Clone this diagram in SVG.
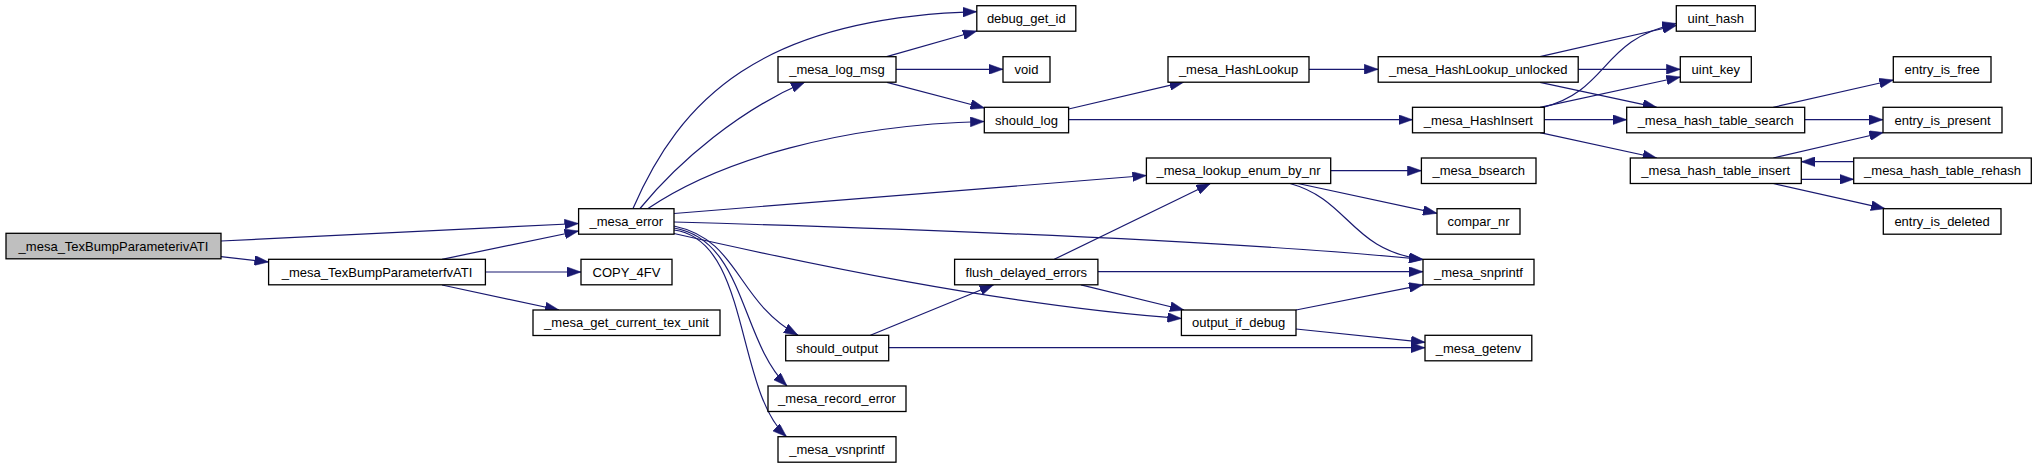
<svg xmlns="http://www.w3.org/2000/svg" width="2037" height="468" viewBox="0 0 2037 468">
<style>
.n rect{fill:#ffffff;stroke:#000000;stroke-width:1.3}
.n.root rect{fill:#bfbfbf}
.n text{font-family:"Liberation Sans",Arial,Helvetica,sans-serif;font-size:13px;text-anchor:middle;fill:#000000}
#edges path{fill:none;stroke:#191970;stroke-width:1.2;marker-end:url(#ah)}
</style>
<defs>
<marker id="ah" markerUnits="userSpaceOnUse" viewBox="0 0 14 10" refX="14" refY="5" markerWidth="14" markerHeight="10" orient="auto">
<path d="M0,0 L14,5 L0,10 z" fill="#191970" stroke="#191970" stroke-width="0.5"/>
</marker>
</defs>
<rect x="0" y="0" width="2037" height="468" fill="#ffffff"/>
<g id="edges">
<path d="M221,241 L578.5,223.5"/>
<path d="M221,256.7 L268.5,262"/>
<path d="M442,259.3 L578.5,231"/>
<path d="M485.4,272 L581,272"/>
<path d="M442,285 L559,310"/>
<path d="M633,208.5 C680,100 760,18 976.7,11.7"/>
<path d="M640,208.5 C680,160 740,110 805,82"/>
<path d="M648,208.5 C720,160 840,125 984.3,121.5"/>
<path d="M674,213.5 L1146.4,175.5"/>
<path d="M674,222 C950,230 1250,242 1423,259.5"/>
<path d="M674,233.5 C800,262 1000,305 1181.4,318.5"/>
<path d="M674,226 C740,240 735,300 798,335.3"/>
<path d="M674,228 C745,240 740,340 787,386"/>
<path d="M674,230 C750,240 735,390 786.5,436.7"/>
<path d="M886.7,56.7 L976.8,31"/>
<path d="M896,69.3 L1003,69.3"/>
<path d="M887,82.3 L984.5,108"/>
<path d="M1068.6,109 L1183.6,82.2"/>
<path d="M1068.6,119.7 L1412.5,119.7"/>
<path d="M1309,69.3 L1378.2,69.3"/>
<path d="M1540,56.7 L1676.3,25.5"/>
<path d="M1578.3,69.3 L1680.3,69.3"/>
<path d="M1540,82.3 L1656.7,107.3"/>
<path d="M1543,107.3 C1610,90 1600,40 1676.3,23.5"/>
<path d="M1540,107.3 L1680.3,77"/>
<path d="M1544.3,119.7 L1626.7,119.7"/>
<path d="M1540,132.7 L1656.7,158"/>
<path d="M1773.3,107.3 L1893.3,80"/>
<path d="M1804.7,119.7 L1883,119.7"/>
<path d="M1773.3,158 L1883.3,132.5"/>
<path d="M1801.3,179.3 L1853.7,179.3"/>
<path d="M1853.7,161.7 L1801.3,161.7"/>
<path d="M1773.3,183.5 L1885,208.7"/>
<path d="M1330.7,170.7 L1421.4,170.7"/>
<path d="M1298,183.5 L1437,213.3"/>
<path d="M1290,183.5 C1350,200 1350,250 1423,259.5"/>
<path d="M1054.3,259.3 L1210.4,183.5"/>
<path d="M1097.9,271.7 L1423,271.7"/>
<path d="M1081,284.8 L1184,310"/>
<path d="M870.4,335.3 L993.6,284.8"/>
<path d="M888.6,347.7 L1425,347.7"/>
<path d="M1296,310 L1423,284.8"/>
<path d="M1296,329 L1425,342.3"/>
</g>
<g id="n_ivATI" class="n root"><rect x="6" y="233.3" width="215" height="25.5"/><text x="113.5" y="250.6">_mesa_TexBumpParameterivATI</text></g>
<g id="n_fvATI" class="n"><rect x="268.6" y="259.3" width="216.8" height="25.5"/><text x="377" y="276.6">_mesa_TexBumpParameterfvATI</text></g>
<g id="n_mesa_error" class="n"><rect x="578.6" y="208.7" width="95.4" height="25.5"/><text x="626.3" y="226">_mesa_error</text></g>
<g id="n_copy4fv" class="n"><rect x="581" y="259.3" width="91" height="25.5"/><text x="626.5" y="276.6">COPY_4FV</text></g>
<g id="n_get_current_tex_unit" class="n"><rect x="533" y="310" width="187" height="25.5"/><text x="626.5" y="327.3">_mesa_get_current_tex_unit</text></g>
<g id="n_log_msg" class="n"><rect x="778" y="56.7" width="118" height="25.5"/><text x="837" y="74">_mesa_log_msg</text></g>
<g id="n_should_output" class="n"><rect x="785.7" y="335.3" width="103" height="25.5"/><text x="837.2" y="352.6">should_output</text></g>
<g id="n_record_error" class="n"><rect x="768" y="386" width="138" height="25.5"/><text x="837" y="403.3">_mesa_record_error</text></g>
<g id="n_vsnprintf" class="n"><rect x="778" y="436.7" width="118" height="25.5"/><text x="837" y="454">_mesa_vsnprintf</text></g>
<g id="n_debug_get_id" class="n"><rect x="976.8" y="5.7" width="99" height="25.5"/><text x="1026.3" y="23">debug_get_id</text></g>
<g id="n_void" class="n"><rect x="1003" y="56.7" width="47" height="25.5"/><text x="1026.5" y="74">void</text></g>
<g id="n_should_log" class="n"><rect x="984.3" y="107.3" width="84.3" height="25.5"/><text x="1026.5" y="124.6">should_log</text></g>
<g id="n_flush_delayed_errors" class="n"><rect x="954.6" y="259.3" width="143.3" height="25.5"/><text x="1026.3" y="276.6">flush_delayed_errors</text></g>
<g id="n_HashLookup" class="n"><rect x="1168" y="56.7" width="141" height="25.5"/><text x="1238.5" y="74">_mesa_HashLookup</text></g>
<g id="n_lookup_enum_by_nr" class="n"><rect x="1146.4" y="158" width="184.3" height="25.5"/><text x="1238.5" y="175.3">_mesa_lookup_enum_by_nr</text></g>
<g id="n_output_if_debug" class="n"><rect x="1181.4" y="310" width="114.6" height="25.5"/><text x="1238.7" y="327.3">output_if_debug</text></g>
<g id="n_HashLookup_unlocked" class="n"><rect x="1378.2" y="56.7" width="200" height="25.5"/><text x="1478.2" y="74">_mesa_HashLookup_unlocked</text></g>
<g id="n_HashInsert" class="n"><rect x="1412.5" y="107.3" width="131.8" height="25.5"/><text x="1478.4" y="124.6">_mesa_HashInsert</text></g>
<g id="n_bsearch" class="n"><rect x="1421.4" y="158" width="114.6" height="25.5"/><text x="1478.7" y="175.3">_mesa_bsearch</text></g>
<g id="n_compar_nr" class="n"><rect x="1437" y="208.7" width="83" height="25.5"/><text x="1478.5" y="226">compar_nr</text></g>
<g id="n_snprintf" class="n"><rect x="1423" y="259.3" width="111" height="25.5"/><text x="1478.5" y="276.6">_mesa_snprintf</text></g>
<g id="n_getenv" class="n"><rect x="1425" y="335.3" width="106.8" height="25.5"/><text x="1478.4" y="352.6">_mesa_getenv</text></g>
<g id="n_uint_hash" class="n"><rect x="1676.3" y="5.7" width="79" height="25.5"/><text x="1715.8" y="23">uint_hash</text></g>
<g id="n_uint_key" class="n"><rect x="1680.3" y="56.7" width="71" height="25.5"/><text x="1715.8" y="74">uint_key</text></g>
<g id="n_hash_table_search" class="n"><rect x="1626.7" y="107.3" width="178" height="25.5"/><text x="1715.7" y="124.6">_mesa_hash_table_search</text></g>
<g id="n_hash_table_insert" class="n"><rect x="1630.3" y="158" width="171" height="25.5"/><text x="1715.8" y="175.3">_mesa_hash_table_insert</text></g>
<g id="n_entry_is_free" class="n"><rect x="1893.3" y="56.7" width="97.7" height="25.5"/><text x="1942.1" y="74">entry_is_free</text></g>
<g id="n_entry_is_present" class="n"><rect x="1883" y="107.3" width="119" height="25.5"/><text x="1942.5" y="124.6">entry_is_present</text></g>
<g id="n_hash_table_rehash" class="n"><rect x="1853.7" y="158" width="177.6" height="25.5"/><text x="1942.5" y="175.3">_mesa_hash_table_rehash</text></g>
<g id="n_entry_is_deleted" class="n"><rect x="1883.3" y="208.7" width="117.7" height="25.5"/><text x="1942.1" y="226">entry_is_deleted</text></g>
</svg>
